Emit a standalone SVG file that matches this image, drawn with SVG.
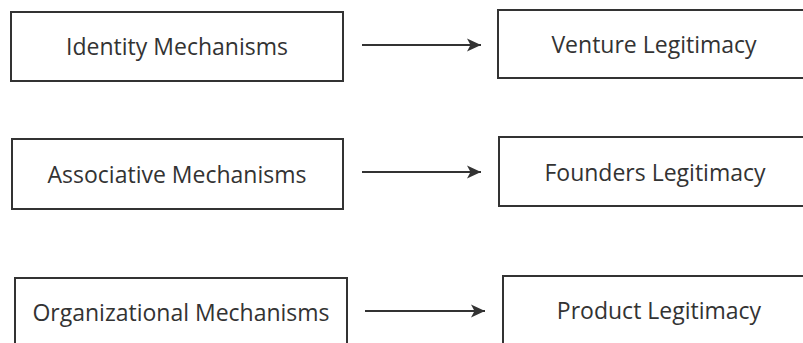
<svg xmlns="http://www.w3.org/2000/svg" width="803" height="343" viewBox="0 0 803 343">
<style>
.box{fill:#fff;stroke:#333;stroke-width:2}
.lbl{font-family:"Open Sans","Liberation Sans",sans-serif;font-size:23px;fill:#333;text-anchor:middle}
.edge{stroke:#333;stroke-width:2;fill:none}
</style>
<defs>
<marker id="ah" markerUnits="userSpaceOnUse" markerWidth="16" markerHeight="16" refX="14" refY="8" orient="auto">
<path d="M0,1.5 L14,8 L0,14.5 L3.5,8 Z" fill="#333"/>
</marker>
</defs>
<rect width="803" height="343" fill="#fff"/>
<g id="identity"><rect class="box" x="11" y="12" width="332" height="69"/><text class="lbl" x="177" y="55">Identity Mechanisms</text></g>
<g id="venture"><rect class="box" x="498" y="10" width="312" height="68"/><text class="lbl" x="654" y="53">Venture Legitimacy</text></g>
<g id="associative"><rect class="box" x="12" y="139" width="331" height="70"/><text class="lbl" x="177" y="183">Associative Mechanisms</text></g>
<g id="founders"><rect class="box" x="499" y="137" width="311" height="69"/><text class="lbl" x="655" y="181">Founders Legitimacy</text></g>
<g id="organizational"><rect class="box" x="15" y="278" width="332" height="80"/><text class="lbl" x="181" y="321">Organizational Mechanisms</text></g>
<g id="product"><rect class="box" x="503" y="276" width="307" height="80"/><text class="lbl" x="659" y="319">Product Legitimacy</text></g>
<g id="connectors">
<line class="edge" x1="362" y1="45" x2="481" y2="45" marker-end="url(#ah)"/>
<line class="edge" x1="362" y1="172" x2="481" y2="172" marker-end="url(#ah)"/>
<line class="edge" x1="365" y1="311" x2="485" y2="311" marker-end="url(#ah)"/>
</g>
</svg>
